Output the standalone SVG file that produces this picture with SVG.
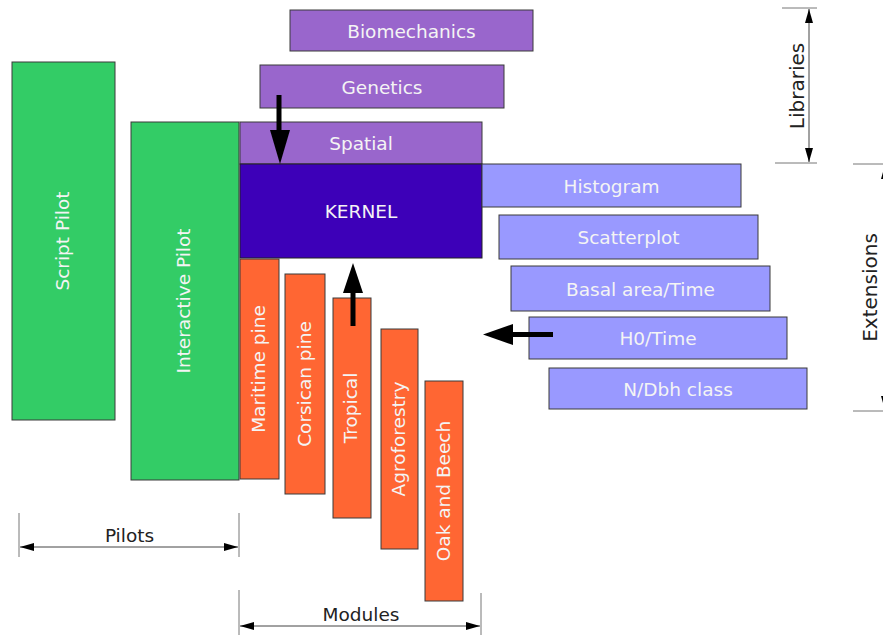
<svg xmlns="http://www.w3.org/2000/svg" width="883" height="635" viewBox="0 0 883 635">
<defs>
<style>
.box{stroke:#3a3a3a;stroke-width:1}
.lib{fill:#9966cc}
.ker{fill:#3d00b8}
.ext{fill:#9999ff}
.mod{fill:#ff6633}
.pil{fill:#33cc66}
.t{font-family:"DejaVu Sans",Verdana,sans-serif;font-size:18.5px;fill:#f4f4f4;text-anchor:middle}
.d{font-family:"DejaVu Sans",Verdana,sans-serif;font-size:18.5px;fill:#222;text-anchor:middle}
.dim{stroke:#444;stroke-width:1;fill:none}
.tick{stroke:#777;stroke-width:1;fill:none}
.arr{stroke:#000;stroke-width:5;fill:none}
</style>
<marker id="dh" viewBox="0 0 14 8" refX="14" refY="4" markerWidth="14" markerHeight="8" markerUnits="userSpaceOnUse" orient="auto-start-reverse">
<path d="M0,0 L14,4 L0,8 Z" fill="#000"/>
</marker>
</defs>

<g id="script-pilot"><rect class="box pil" x="12" y="62" width="103" height="358"/><text class="t" transform="translate(68.5,241) rotate(-90)">Script Pilot</text></g>
<g id="interactive-pilot"><rect class="box pil" x="131" y="122" width="108" height="358"/><text class="t" transform="translate(190,301) rotate(-90)">Interactive Pilot</text></g>

<g id="biomechanics"><rect class="box lib" x="290" y="10" width="243" height="41"/><text class="t" x="411.5" y="37.5">Biomechanics</text></g>
<g id="genetics"><rect class="box lib" x="260" y="65" width="244" height="43"/><text class="t" x="382" y="93.5">Genetics</text></g>
<g id="spatial"><rect class="box lib" x="240" y="122" width="242" height="42"/><text class="t" x="361" y="150">Spatial</text></g>
<g id="kernel"><rect class="box ker" x="240" y="164" width="242" height="94" style="stroke:#222"/><text class="t" x="361" y="218">KERNEL</text></g>

<g id="histogram"><rect class="box ext" x="482" y="164" width="259" height="43"/><text class="t" x="611.5" y="192.5">Histogram</text></g>
<g id="scatterplot"><rect class="box ext" x="499" y="215" width="259" height="44"/><text class="t" x="628.5" y="244">Scatterplot</text></g>
<g id="basal-area"><rect class="box ext" x="511" y="266" width="259" height="45"/><text class="t" x="640.5" y="295.5">Basal area/Time</text></g>
<g id="h0-time"><rect class="box ext" x="529" y="317" width="258" height="42"/><text class="t" x="658" y="345">H0/Time</text></g>
<g id="n-dbh"><rect class="box ext" x="549" y="368" width="258" height="41"/><text class="t" x="678" y="395.5">N/Dbh class</text></g>

<g id="maritime-pine"><rect class="box mod" x="240" y="259" width="39" height="220"/><text class="t" transform="translate(265,369) rotate(-90)">Maritime pine</text></g>
<g id="corsican-pine"><rect class="box mod" x="285" y="274" width="40" height="220"/><text class="t" transform="translate(310.5,384) rotate(-90)">Corsican pine</text></g>
<g id="tropical"><rect class="box mod" x="333" y="298" width="38" height="220"/><text class="t" transform="translate(357,408) rotate(-90)">Tropical</text></g>
<g id="agroforestry"><rect class="box mod" x="381" y="329" width="37" height="220"/><text class="t" transform="translate(405,439) rotate(-90)">Agroforestry</text></g>
<g id="oak-beech"><rect class="box mod" x="425" y="381" width="38" height="220"/><text class="t" transform="translate(450,491) rotate(-90)">Oak and Beech</text></g>

<g id="connectors">
<line class="arr" x1="279" y1="95" x2="279" y2="132"/>
<polygon points="270,130 290,130 280,164" fill="#000"/>
<line class="arr" x1="353" y1="326" x2="353" y2="291"/>
<polygon points="343,293 363,293 353,263" fill="#000"/>
<line class="arr" x1="553" y1="334.5" x2="511" y2="334.5"/>
<polygon points="513,324 513,345 483,334.5" fill="#000"/>
</g>

<g id="dimensions">
<line class="tick" x1="19" y1="513" x2="19" y2="557"/>
<line class="tick" x1="239" y1="513" x2="239" y2="557"/>
<line class="dim" x1="20" y1="547" x2="238" y2="547" marker-start="url(#dh)" marker-end="url(#dh)"/>
<text class="d" x="129.5" y="541.5">Pilots</text>

<line class="tick" x1="239" y1="590" x2="239" y2="635"/>
<line class="tick" x1="481" y1="593" x2="481" y2="635"/>
<line class="dim" x1="240" y1="626" x2="480" y2="626" marker-start="url(#dh)" marker-end="url(#dh)"/>
<text class="d" x="361" y="621">Modules</text>

<line class="tick" x1="782" y1="8" x2="817" y2="8"/>
<line class="tick" x1="775" y1="163" x2="817" y2="163"/>
<line class="dim" x1="809" y1="9" x2="809" y2="162" marker-start="url(#dh)" marker-end="url(#dh)"/>
<text class="d" style="font-size:20px" transform="translate(803.5,86) rotate(-90)">Libraries</text>

<line class="tick" x1="853" y1="164" x2="883" y2="164"/>
<line class="tick" x1="853" y1="411" x2="883" y2="411"/>
<line class="dim" x1="885" y1="165" x2="885" y2="410" marker-start="url(#dh)" marker-end="url(#dh)"/>
<text class="d" style="font-size:20px" transform="translate(877,287.5) rotate(-90)">Extensions</text>
</g>
</svg>
